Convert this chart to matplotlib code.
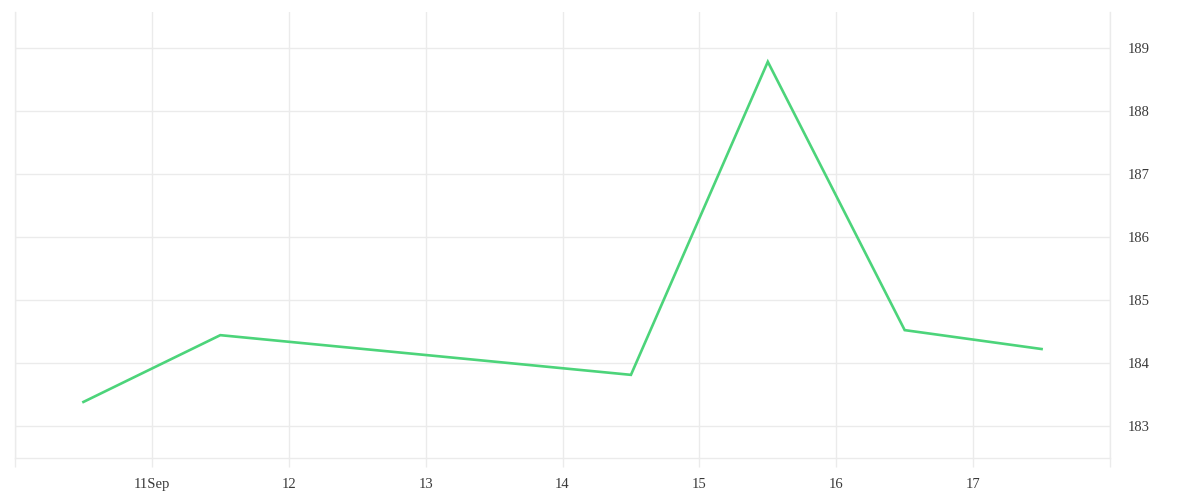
import pandas as pd
import matplotlib.pyplot as plt
import matplotlib.dates as mdates

# values (noon of each day)
dates = pd.to_datetime(['2023-09-10 12:00', '2023-09-11 12:00', '2023-09-14 12:00',
                        '2023-09-15 12:00', '2023-09-16 12:00', '2023-09-17 12:00'])
prices = [183.38, 184.44, 183.81, 188.78, 184.52, 184.22]

tick_days = pd.date_range('2023-09-10', '2023-09-18', freq='D')
tick_labels = ['', '11Sep', '12', '13', '14', '15', '16', '17', '']
y_ticks = [183, 184, 185, 186, 187, 188, 189]

grid_col = '#ebebeb'
text_col = '#3a3a3a'

plt.rcParams['font.family'] = ['Liberation Serif', 'DejaVu Serif']

fig = plt.figure(figsize=(12, 5), dpi=100)
ax = fig.add_axes([0.0125, 0.084, 0.9125, 0.892])

ax.plot(dates, prices, color='#4cd47a', linewidth=1.9, solid_joinstyle='miter')

ax.set_xlim(tick_days[0], tick_days[-1])
ax.set_ylim(182.49, 189.57)

ax.set_xticks(tick_days)
ax.set_xticklabels(tick_labels)
ax.set_yticks(y_ticks)
ax.set_yticklabels([str(v) for v in y_ticks])

ax.yaxis.tick_right()
ax.tick_params(axis='x', length=6.5, width=1, color=grid_col, labelsize=10.5,
               labelcolor=text_col, pad=8)
ax.tick_params(axis='y', length=0, labelsize=10.5, labelcolor=text_col, pad=13)

ax.grid(True, color=grid_col, linewidth=1)
ax.set_axisbelow(True)

ax.spines['top'].set_visible(False)
for s in ['left', 'right', 'bottom']:
    ax.spines[s].set_color(grid_col)
    ax.spines[s].set_linewidth(1)

fig.savefig('out.png', dpi=100, facecolor='white')
